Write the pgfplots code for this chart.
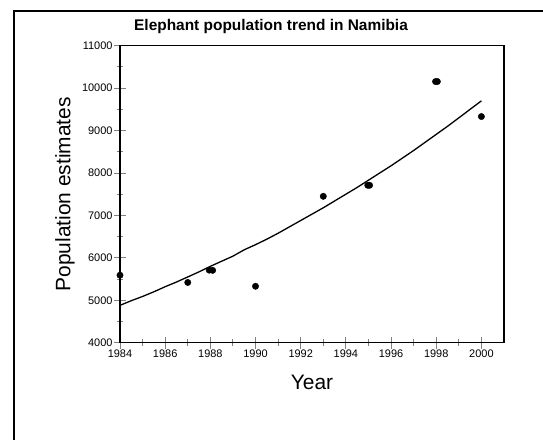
\documentclass[border=0pt]{standalone}
\usepackage{fontspec}
\setmainfont{Liberation Sans}
\usepackage{pgfplots}
\pgfplotsset{compat=1.18}
\begin{document}
\begin{tikzpicture}
\useasboundingbox (0bp,0bp) rectangle (543bp,440bp);
\draw[line width=1.3bp] (14bp,-2bp) -- (14bp,429bp) -- (545bp,429bp);
\begin{axis}[
  at={(120bp,97.3bp)}, anchor=south west,
  scale only axis, width=384bp, height=297bp,
  xmin=1984, xmax=2001, ymin=4000, ymax=11000,
  xtick={1984,1986,...,2000}, minor xtick={1985,1987,...,1999},
  ytick={4000,5000,...,11000}, minor ytick={4500,5500,...,10500},
  scaled y ticks=false, scaled x ticks=false,
  xtick pos=bottom, ytick pos=left,
  /pgf/number format/1000 sep={},
  /pgf/number format/assume math mode=true,
  tick align=center, major tick length=12bp, minor tick length=7bp,
  every tick/.style={gray, line width=0.9bp},
  axis line style={line width=1.3bp},
  ticklabel style={font=\fontsize{11}{13}\selectfont},
  xticklabel style={yshift=2bp},
  yticklabel style={xshift=2bp},
  title={\bfseries Elephant population trend in Namibia},
  title style={font=\fontsize{15.5}{18}\selectfont, at={(axis description cs:0.5,1)}, anchor=center, yshift=13bp, xshift=-41bp},
  xlabel={Year}, ylabel={Population estimates},
  label style={font=\fontsize{21}{24}\selectfont},
  xlabel style={at={(axis description cs:0.5,-0.135)}, anchor=center},
  ylabel style={at={(axis description cs:-0.143,0.5)}, anchor=center},
  clip=false,
]
\addplot[black, line width=1.3bp] coordinates {
(1984,4880) (1984.5,4990) (1985,5090) (1985.5,5200) (1986,5320) (1986.5,5430)
(1987,5550) (1987.5,5670) (1988,5800) (1988.5,5920) (1989,6040) (1989.5,6190)
(1990,6310) (1990.5,6440) (1991,6580) (1991.5,6730) (1992,6880) (1992.5,7030)
(1993,7180) (1993.5,7340) (1994,7500) (1994.5,7660) (1995,7830) (1995.5,8000)
(1996,8170) (1996.5,8350) (1997,8530) (1997.5,8720) (1998,8910) (1998.5,9100)
(1999,9300) (1999.5,9500) (2000,9700)
};
\addplot[only marks, mark=*, mark size=3.2bp, black] coordinates {
(1984,5590) (1987,5420) (1987.95,5710) (1988.1,5705) (1990,5330)
(1993,7450) (1994.97,7710) (1995.05,7710) (1997.97,10155) (1998.05,10155) (2000,9330)
};
\end{axis}
\end{tikzpicture}
\end{document}
